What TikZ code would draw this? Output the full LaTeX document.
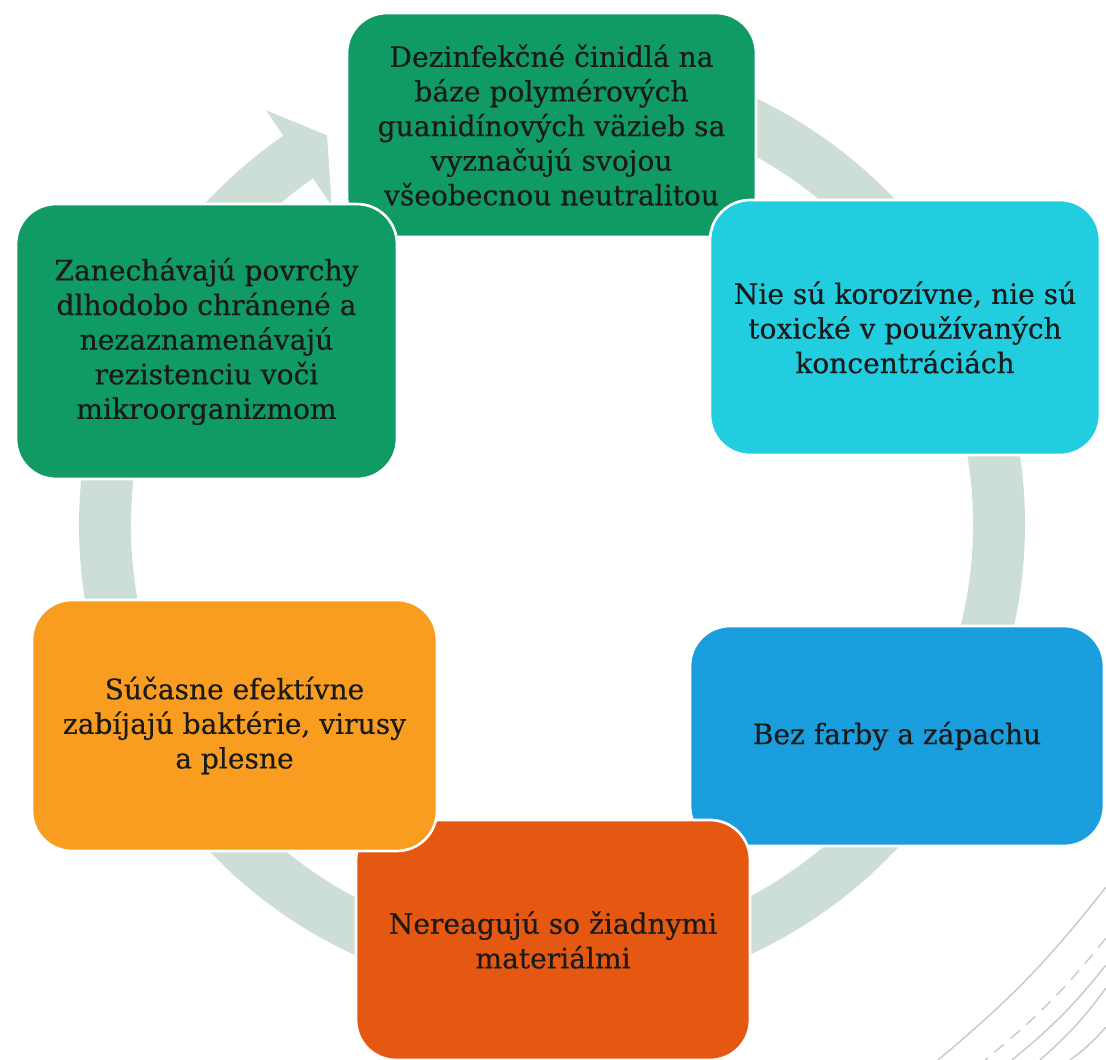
\documentclass[tikz,border=0pt]{standalone}
\usepackage{fontspec}
\setmainfont{DejaVu Serif}[FakeBold=0.4]

\definecolor{zelena}{HTML}{0F9B63}
\definecolor{tyrkys}{HTML}{22CDE0}
\definecolor{modra}{HTML}{1A9EDD}
\definecolor{cervena}{HTML}{E55812}
\definecolor{oranzova}{HTML}{F89D1F}
\definecolor{kruhc}{HTML}{CCDED5}
\definecolor{pismo}{HTML}{1A1A1A}
\definecolor{ciara}{HTML}{C8C8C8}

\tikzset{
  cyklbox/.style={rectangle, rounded corners=0.8cm, draw=white, line width=1.5pt,
    text=pismo, align=center, inner sep=0pt,
    font=\fontsize{16}{19.7}\selectfont},
  ozdoba/.style={ciara, line width=0.8pt}
}

\begin{document}
\begin{tikzpicture}[x=0.02cm, y=0.02cm]
\useasboundingbox (0,0) rectangle (1106,-1060);
\clip (0,0) rectangle (1106,-1060);

% kruhova sipka
\fill[kruhc, shift={(552,-525)}] (124.6:473) arc[start angle=124.6, end angle=440, radius=473]
  -- (440:421) arc[start angle=440, end angle=124.6, radius=421]
  -- (124.6:388) -- (120:450) -- (124.6:504) -- cycle;

% ozdobne ciary vpravo dole
\draw[ozdoba] (1106,-887) to[bend left=6] (938,-1060);
\draw[ozdoba, dash pattern=on 7pt off 5pt] (1106,-938) to[bend left=6] (985,-1060);
\draw[ozdoba] (1106,-965) to[bend left=6] (1012,-1060);
\draw[ozdoba] (1106,-988) to[bend left=6] (1040,-1060);
\draw[ozdoba] (1106,-1027) to[bend left=6] (1070,-1060);

\node[cyklbox, fill=zelena, minimum width=8.18cm, minimum height=4.48cm] (dezinf) at (551.5,-125)
  {Dezinfekčné činidlá na\\báze polymérových\\guanidínových väzieb sa\\vyznačujú svojou\\všeobecnou neutralitou};
\node[cyklbox, fill=tyrkys, minimum width=7.8cm, minimum height=5.1cm] (korozia) at (905,-327.5)
  {Nie sú korozívne, nie sú\\toxické v používaných\\koncentráciách};
\node[cyklbox, fill=modra, minimum width=8.28cm, minimum height=4.4cm] (farba) at (897,-736)
  {Bez farby a zápachu};
\node[cyklbox, fill=cervena, minimum width=7.88cm, minimum height=4.8cm] (materialy) at (553,-940)
  {Nereagujú so žiadnymi\\materiálmi};
\node[cyklbox, fill=oranzova, minimum width=8.1cm, minimum height=5.02cm] (ucinok) at (234.5,-725.5)
  {Súčasne efektívne\\zabíjajú baktérie, virusy\\a plesne};
\node[cyklbox, fill=zelena, minimum width=7.62cm, minimum height=5.5cm] (ochrana) at (206.5,-341.5)
  {Zanechávajú povrchy\\dlhodobo chránené a\\nezaznamenávajú\\rezistenciu voči\\mikroorganizmom};
\end{tikzpicture}
\end{document}
